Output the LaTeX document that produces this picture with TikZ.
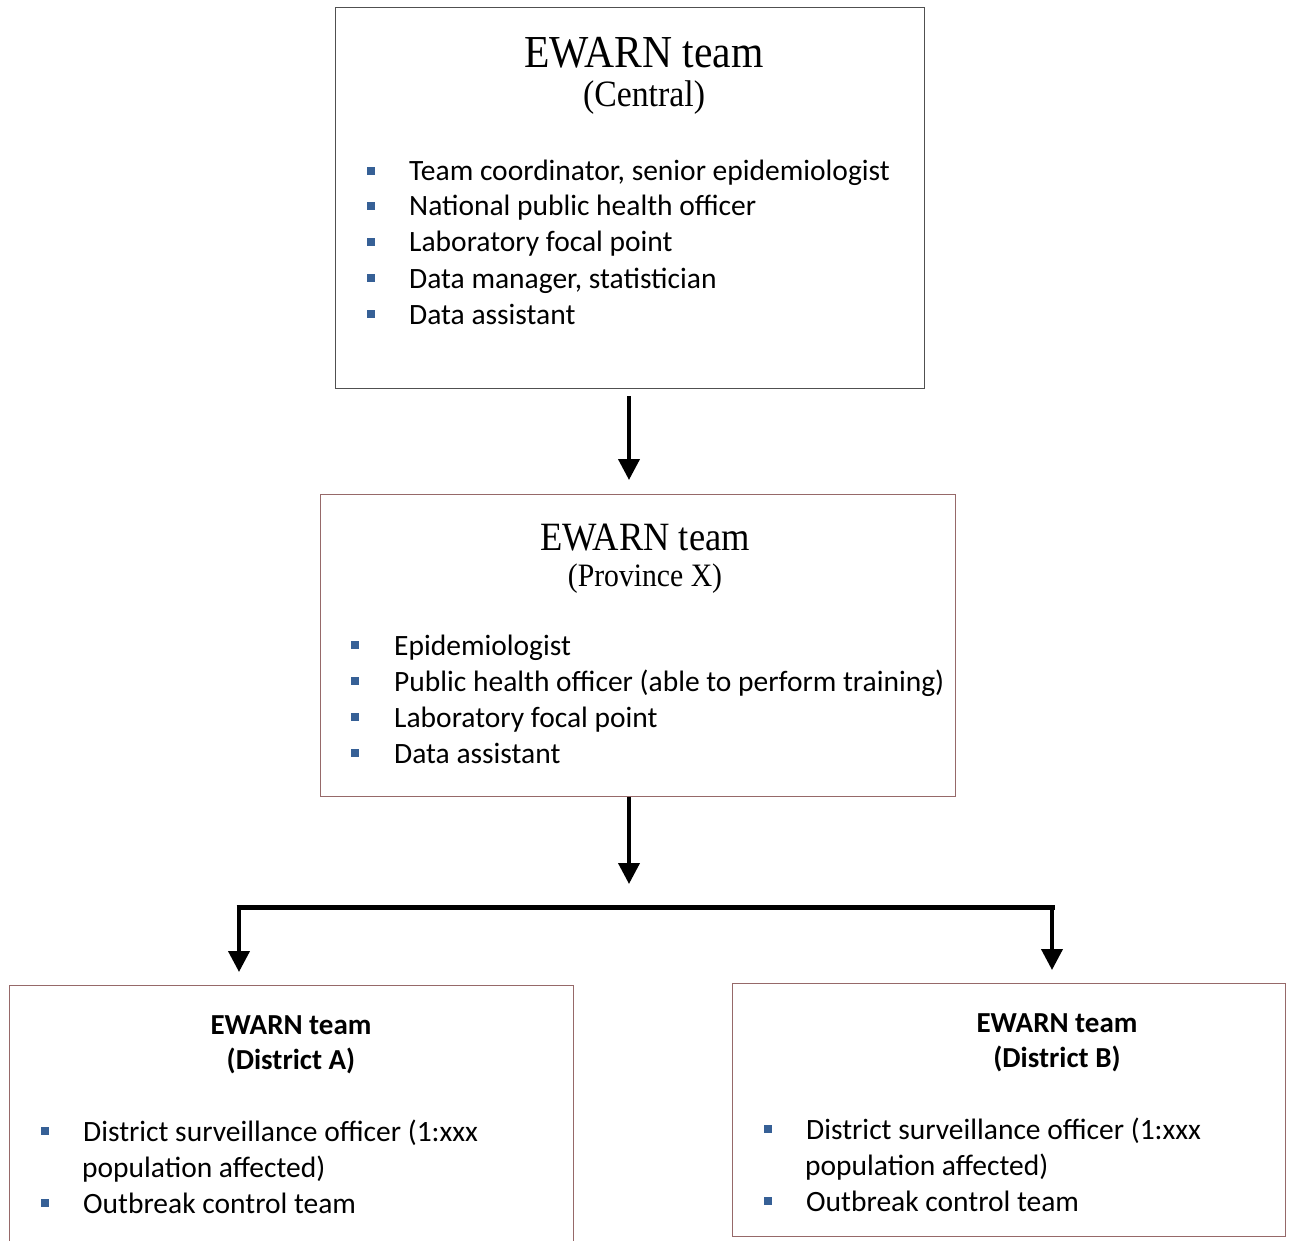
\documentclass[tikz,border=0pt]{standalone}
\usepackage{fontspec}
\setmainfont{Carlito}
\newfontfamily\titlefont{Liberation Serif}
\usetikzlibrary{arrows.meta}
\definecolor{bulletblue}{RGB}{54,96,150}
\definecolor{boxgray}{RGB}{80,80,80}
\definecolor{boxred}{RGB}{150,105,105}
\tikzset{
  teambox/.style={draw, line width=1.3pt, anchor=north west, inner sep=0pt},
  bul/.style={fill=bulletblue, minimum size=8pt, inner sep=0pt},
  itemtxt/.style={anchor=base west, inner sep=0pt, font=\fontsize{29.5}{36}\selectfont},
  bigtitle/.style={anchor=base, inner sep=0pt},
  arr/.style={line width=4pt, -{Triangle[width=21pt,length=21pt]}},
}
\newcommand{\bulletat}[3]{\node[bul] (#1) at (#2,#3) {};}
\newcommand{\tallserif}[1]{\scalebox{1}[1.1]{#1}}
\begin{document}
\begin{tikzpicture}[x=1pt,y=-1pt]
\useasboundingbox (0,0) rectangle (1290,1241);
\clip (0,0) rectangle (1290,1241);
% boxes
\node[teambox, draw=boxgray, minimum width=589pt, minimum height=381pt] (central) at (335,7) {};
\node[teambox, draw=boxred, minimum width=635pt, minimum height=302pt] (province) at (320,494) {};
\node[teambox, draw=boxred, line width=1pt, minimum width=564pt, minimum height=300pt] (distA) at (9,985) {};
\node[teambox, draw=boxred, line width=1pt, minimum width=553pt, minimum height=253pt] (distB) at (732,983) {};

% central texts
\node[bigtitle, font=\titlefont\fontsize{41.6}{48}\selectfont] (ct1) at (644,68) {\tallserif{EWARN team}};
\node[bigtitle, font=\titlefont\fontsize{33.8}{40}\selectfont] (ct2) at (644,107) {\tallserif{(Central)}};
\bulletat{cb1}{371}{171}\node[itemtxt] (ci1) at (409,181) {Team coordinator, senior epidemiologist};
\bulletat{cb2}{371}{206}\node[itemtxt] (ci2) at (409,216) {National public health officer};
\bulletat{cb3}{371}{242}\node[itemtxt] (ci3) at (409,252) {Laboratory focal point};
\bulletat{cb4}{371}{278}\node[itemtxt] (ci4) at (409,288) {Data manager, statistician};
\bulletat{cb5}{371}{314}\node[itemtxt] (ci5) at (409,324) {Data assistant};

% province texts
\node[bigtitle, font=\titlefont\fontsize{36.5}{42}\selectfont] (pt1) at (645,550) {\tallserif{EWARN team}};
\node[bigtitle, font=\titlefont\fontsize{29.7}{36}\selectfont] (pt2) at (645,586) {\tallserif{(Province X)}};
\bulletat{pb1}{355}{645}\node[itemtxt] (pi1) at (394,655) {Epidemiologist};
\bulletat{pb2}{355}{681}\node[itemtxt] (pi2) at (394,691) {Public health officer (able to perform training)};
\bulletat{pb3}{355}{717}\node[itemtxt] (pi3) at (394,727) {Laboratory focal point};
\bulletat{pb4}{355}{753}\node[itemtxt] (pi4) at (394,763) {Data assistant};

% district A texts
\node[bigtitle, font=\bfseries\fontsize{29}{36}\selectfont] (at1) at (291,1034) {EWARN team};
\node[bigtitle, font=\bfseries\fontsize{29}{36}\selectfont] (at2) at (291,1069) {(District A)};
\bulletat{ab1}{45}{1131}\node[itemtxt] (ai1) at (83,1141) {District surveillance officer (1:xxx};
\node[itemtxt] (ai1b) at (82,1177) {population affected)};
\bulletat{ab2}{45}{1203}\node[itemtxt] (ai2) at (83,1213) {Outbreak control team};

% district B texts
\node[bigtitle, font=\bfseries\fontsize{29}{36}\selectfont] (bt1) at (1057,1032) {EWARN team};
\node[bigtitle, font=\bfseries\fontsize{29}{36}\selectfont] (bt2) at (1057,1067) {(District B)};
\bulletat{bb1}{768}{1129}\node[itemtxt] (bi1) at (806,1139) {District surveillance officer (1:xxx};
\node[itemtxt] (bi1b) at (805,1175) {population affected)};
\bulletat{bb2}{768}{1201}\node[itemtxt] (bi2) at (806,1211) {Outbreak control team};

% connectors
\coordinate (split) at (629,907);
\coordinate (hl) at (239,907);
\coordinate (hr) at (1052,907);
\draw[arr, shorten >=14pt] (629,396) -- (split |- province.north);
\draw[arr, shorten >=23pt] (split |- province.south) -- (split);
\draw[line width=5pt] ([xshift=-2.5pt]hl) -- ([xshift=2.5pt]hr);
\draw[arr, shorten >=13pt] (hl) -- (hl |- distA.north);
\draw[arr, shorten >=13pt] (hr) -- (hr |- distB.north);
\end{tikzpicture}
\end{document}
